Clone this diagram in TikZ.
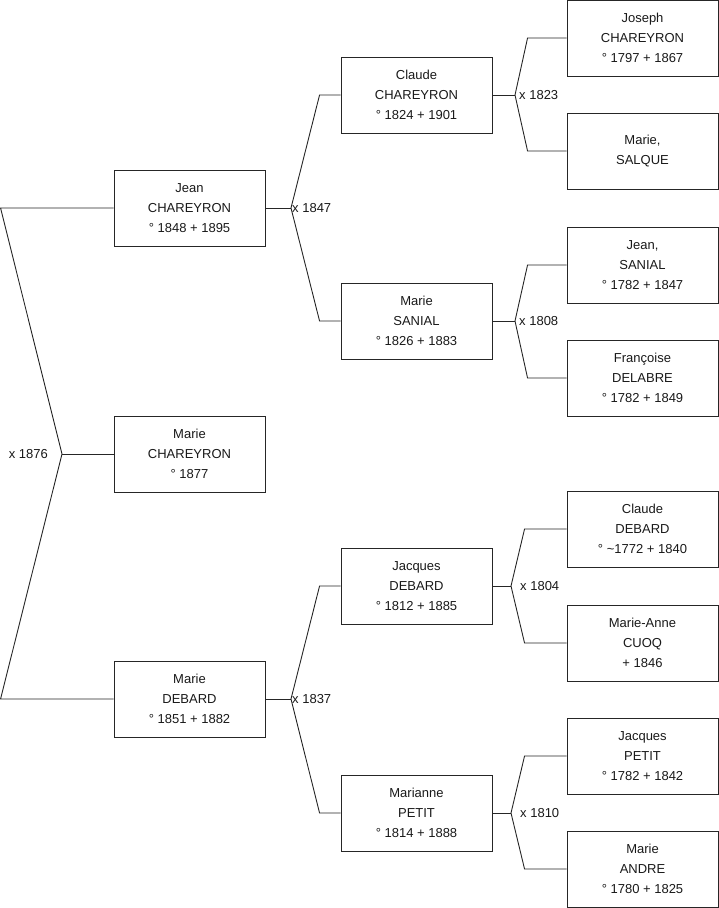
\documentclass[tikz,border=0pt]{standalone}
\usepackage{fontspec}
\setmainfont{Liberation Sans}
\usetikzlibrary{positioning}

\begin{document}
\begin{tikzpicture}[x=1pt, y=-1pt,
    every node/.style={font=\fontsize{13}{20}\selectfont, text=black!90},
    pers/.style={draw=black!85, line width=0.9pt, minimum width=151pt,
                 minimum height=76pt, align=center, inner sep=0pt},
    lnk/.style={draw=black!85, line width=0.9pt},
    mar/.style={inner sep=1pt},
]
\useasboundingbox (0,0) rectangle (719,908);
% generation 1
\node[pers] (jean)   at (189.5,208) {Jean\\CHAREYRON\\° 1848 + 1895};
\node[pers] (marieC) at (189.5,454) {Marie\\CHAREYRON\\° 1877};
\node[pers] (marieD) at (189.5,699) {Marie\\DEBARD\\° 1851 + 1882};
% generation 2
\node[pers] (claude)   at (416.5,95)  {Claude\\CHAREYRON\\° 1824 + 1901};
\node[pers] (sanial)   at (416.5,321) {Marie\\SANIAL\\° 1826 + 1883};
\node[pers] (jacques)  at (416.5,586) {Jacques\\DEBARD\\° 1812 + 1885};
\node[pers] (marianne) at (416.5,813) {Marianne\\PETIT\\° 1814 + 1888};
% generation 3
\node[pers] (joseph)    at (642.5,38)  {Joseph\\CHAREYRON\\° 1797 + 1867};
\node[pers] (salque)    at (642.5,151) {Marie,\\SALQUE};
\node[pers] (jeanS)     at (642.5,265) {Jean,\\SANIAL\\° 1782 + 1847};
\node[pers] (francoise) at (642.5,378) {Françoise\\DELABRE\\° 1782 + 1849};
\node[pers] (claudeD)   at (642.5,529) {Claude\\DEBARD\\° \textasciitilde1772 + 1840};
\node[pers] (cuoq)      at (642.5,643) {Marie-Anne\\CUOQ\\+ 1846};
\node[pers] (jacquesP)  at (642.5,756) {Jacques\\PETIT\\° 1782 + 1842};
\node[pers] (andre)     at (642.5,869) {Marie\\ANDRE\\° 1780 + 1825};

% marriages
\coordinate (m1876) at (62,454);
\coordinate (m1847) at (291,208);
\coordinate (m1837) at (291,699);
\coordinate (m1823) at (515,95);
\coordinate (m1808) at (515,321);
\coordinate (m1804) at (511,586);
\coordinate (m1810) at (511,813);

\draw[lnk] (jean.west) -- ++(-113,0) -- (m1876) -- ([xshift=-113pt]marieD.west) -- (marieD.west);
\draw[lnk] (m1876) -- (marieC.west);
\node[mar, anchor=east] (l1876) at ([xshift=-13pt]m1876) {x 1876};

\draw[lnk] (jean.east) -- (m1847);
\draw[lnk] (claude.west) -- ++(-21,0) -- (m1847) -- ([xshift=-21pt]sanial.west) -- (sanial.west);
\node[mar, anchor=west] (l1847) at (m1847) {x 1847};

\draw[lnk] (marieD.east) -- (m1837);
\draw[lnk] (jacques.west) -- ++(-21,0) -- (m1837) -- ([xshift=-21pt]marianne.west) -- (marianne.west);
\node[mar, anchor=west] (l1837) at (m1837) {x 1837};

\draw[lnk] (claude.east) -- (m1823);
\draw[lnk] (joseph.west) -- ++(-39,0) -- (m1823) -- ([xshift=-39pt]salque.west) -- (salque.west);
\node[mar, anchor=west] (l1823) at ([xshift=3pt]m1823) {x 1823};

\draw[lnk] (sanial.east) -- (m1808);
\draw[lnk] (jeanS.west) -- ++(-39,0) -- (m1808) -- ([xshift=-39pt]francoise.west) -- (francoise.west);
\node[mar, anchor=west] (l1808) at ([xshift=3pt]m1808) {x 1808};

\draw[lnk] (jacques.east) -- (m1804);
\draw[lnk] (claudeD.west) -- ++(-42,0) -- (m1804) -- ([xshift=-42pt]cuoq.west) -- (cuoq.west);
\node[mar, anchor=west] (l1804) at ([xshift=8pt]m1804) {x 1804};

\draw[lnk] (marianne.east) -- (m1810);
\draw[lnk] (jacquesP.west) -- ++(-42,0) -- (m1810) -- ([xshift=-42pt]andre.west) -- (andre.west);
\node[mar, anchor=west] (l1810) at ([xshift=8pt]m1810) {x 1810};
\end{tikzpicture}
\end{document}
